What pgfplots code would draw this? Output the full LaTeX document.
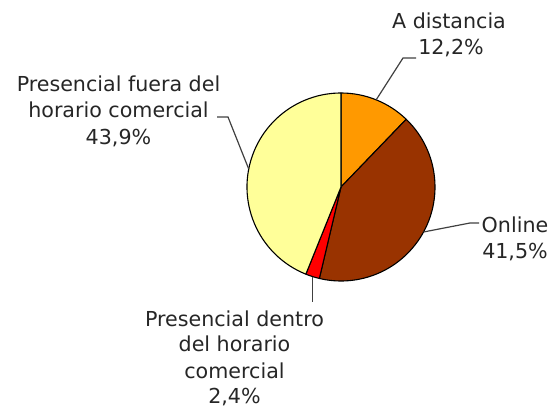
\documentclass[border=0pt]{standalone}
\usepackage{fontspec}
\setmainfont{DejaVu Sans}
\usepackage{pgfplots}
\usepackage{pgfplotstable}
\pgfplotsset{compat=1.18}

\definecolor{cA}{HTML}{FF9900}
\definecolor{cB}{HTML}{993300}
\definecolor{cC}{HTML}{FF0000}
\definecolor{cD}{HTML}{FFFF99}

\pgfplotstableread{
label value
A 12.2
B 41.5
C 2.4
D 43.9
}\piedata

\pgfplotstablegetelem{0}{value}\of\piedata \let\va\pgfplotsretval
\pgfplotstablegetelem{1}{value}\of\piedata \let\vb\pgfplotsretval
\pgfplotstablegetelem{2}{value}\of\piedata \let\vc\pgfplotsretval
\pgfplotstablegetelem{3}{value}\of\piedata \let\vd\pgfplotsretval
\pgfmathsetmacro\aA{90}
\pgfmathsetmacro\aB{\aA-3.6*\va}
\pgfmathsetmacro\aC{\aB-3.6*\vb}
\pgfmathsetmacro\aD{\aC-3.6*\vc}
\pgfmathsetmacro\aE{\aD-3.6*\vd}

\tikzset{lbl/.style={font=\fontsize{20.7}{26}\selectfont, text=black!85, inner sep=0pt, anchor=base}}

\begin{document}
\begin{tikzpicture}
\begin{axis}[
  scale only axis, width=554bp, height=409bp,
  xmin=0, xmax=554, ymin=0, ymax=409,
  hide axis, clip=false,
]
\path (axis cs:0,0) rectangle (axis cs:554,409);
\pgfplotsextra{
\def\R{94bp}
\filldraw[fill=cA, draw=black, line width=1.1bp, line join=round] (axis cs:341,222) -- ++(\aA:\R) arc[start angle=\aA, end angle=\aB, radius=\R] -- cycle;
\filldraw[fill=cB, draw=black, line width=1.1bp, line join=round] (axis cs:341,222) -- ++(\aB:\R) arc[start angle=\aB, end angle=\aC, radius=\R] -- cycle;
\filldraw[fill=cC, draw=black, line width=1.1bp, line join=round] (axis cs:341,222) -- ++(\aC:\R) arc[start angle=\aC, end angle=\aD, radius=\R] -- cycle;
\filldraw[fill=cD, draw=black, line width=1.1bp, line join=round] (axis cs:341,222) -- ++(\aD:\R) arc[start angle=\aD, end angle=\aE, radius=\R] -- cycle;
}
% leader lines
\draw[black!75, line width=1.2bp] (axis cs:376.2,309.2) -- (axis cs:403,351) -- (axis cs:416,351);
\draw[black!75, line width=1.2bp] (axis cs:423.5,177) -- (axis cs:470,186) -- (axis cs:479,186);
\draw[black!75, line width=1.2bp] (axis cs:312.6,132.4) -- (axis cs:312.6,107);
\draw[black!75, line width=1.2bp] (axis cs:248.7,240) -- (axis cs:228,292) -- (axis cs:217,292);
% labels
\node[lbl] at (axis cs:449,380) {A distancia};
\node[lbl] at (axis cs:451,354) {12,2\%};
\node[lbl] at (axis cs:515,176) {Online};
\node[lbl] at (axis cs:515,150) {41,5\%};
\node[lbl] at (axis cs:118.5,317) {Presencial fuera del};
\node[lbl] at (axis cs:118.5,291) {horario comercial};
\node[lbl] at (axis cs:118.5,264) {43,9\%};
\node[lbl] at (axis cs:234.5,82) {Presencial dentro};
\node[lbl] at (axis cs:234.5,57) {del horario};
\node[lbl] at (axis cs:234.5,31) {comercial};
\node[lbl] at (axis cs:234.5,6) {2,4\%};
\end{axis}
\end{tikzpicture}
\end{document}
